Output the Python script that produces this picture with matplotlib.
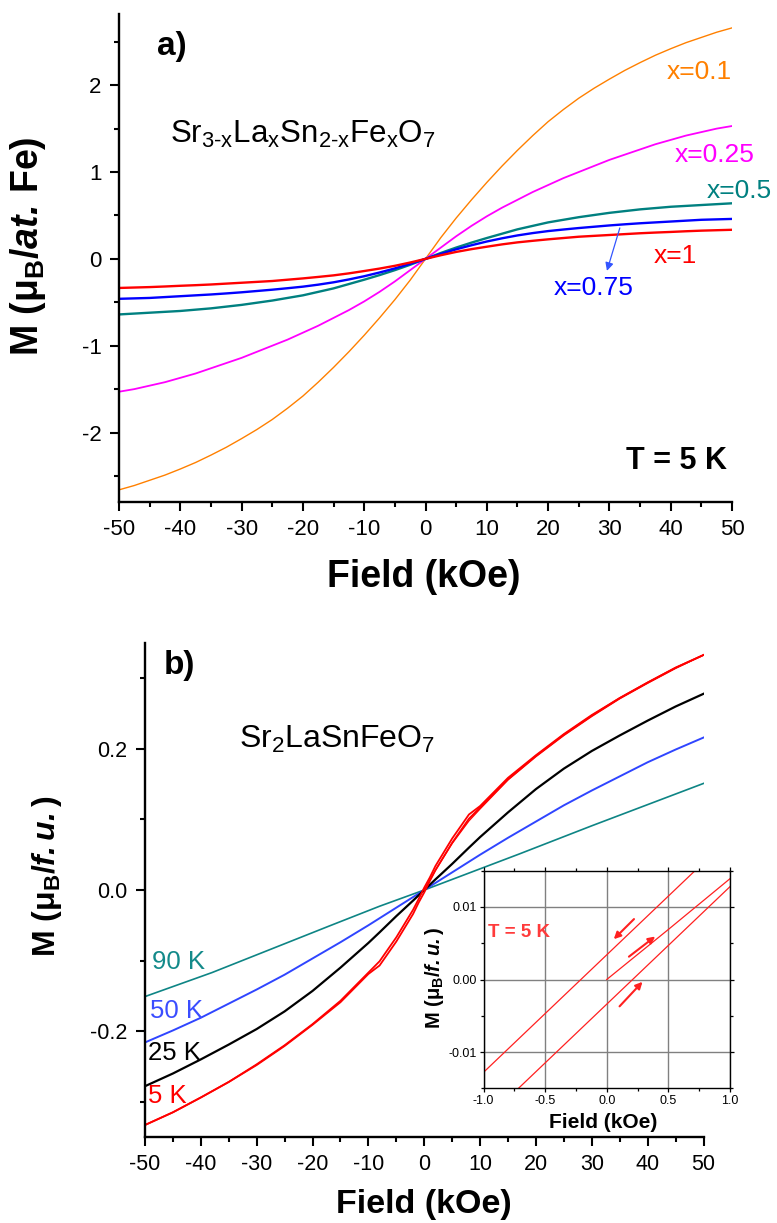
import matplotlib
matplotlib.use("Agg")
import matplotlib.pyplot as plt
from matplotlib.ticker import MultipleLocator, FormatStrFormatter

plt.rcParams['font.family'] = ['Liberation Sans', 'DejaVu Sans']
plt.rcParams['axes.unicode_minus'] = False
plt.rcParams['mathtext.fontset'] = 'custom'
plt.rcParams['mathtext.rm'] = 'Liberation Sans'
plt.rcParams['mathtext.it'] = 'Liberation Sans:italic'
plt.rcParams['mathtext.bf'] = 'Liberation Sans:bold'
plt.rcParams['mathtext.bfit'] = 'Liberation Sans:italic:bold'

# ---------------- panel a data (T = 5 K) ----------------
field_a = [-50, -47.5, -45, -42.5, -40, -37.5, -35, -32.5, -30, -27.5, -25, -22.5,
           -20, -17.5, -15, -12.5, -10, -7.5, -5, -2.5, 0,
           2.5, 5, 7.5, 10, 12.5, 15, 17.5, 20, 22.5, 25, 27.5, 30,
           32.5, 35, 37.5, 40, 42.5, 45, 47.5, 50]
m_x01 = [-2.66, -2.61, -2.55, -2.49, -2.42, -2.345, -2.26, -2.17, -2.07, -1.965, -1.85, -1.72,
         -1.58, -1.42, -1.25, -1.07, -0.88, -0.68, -0.47, -0.245, 0.0,
         0.245, 0.47, 0.68, 0.88, 1.07, 1.25, 1.42, 1.58, 1.72, 1.85, 1.965, 2.07,
         2.17, 2.26, 2.345, 2.42, 2.49, 2.55, 2.61, 2.66]
m_x025 = [-1.53, -1.50, -1.46, -1.42, -1.37, -1.32, -1.26, -1.20, -1.14, -1.07, -1.00, -0.93,
          -0.85, -0.77, -0.68, -0.59, -0.49, -0.38, -0.26, -0.13, 0.0,
          0.13, 0.26, 0.38, 0.49, 0.59, 0.68, 0.77, 0.85, 0.93, 1.00, 1.07, 1.14,
          1.20, 1.26, 1.32, 1.37, 1.42, 1.46, 1.50, 1.53]
m_x05 = [-0.64, -0.63, -0.62, -0.61, -0.60, -0.585, -0.57, -0.55, -0.53, -0.505, -0.48, -0.45,
         -0.42, -0.38, -0.34, -0.29, -0.24, -0.187, -0.13, -0.068, 0.0,
         0.068, 0.13, 0.187, 0.24, 0.29, 0.34, 0.38, 0.42, 0.45, 0.48, 0.505, 0.53,
         0.55, 0.57, 0.585, 0.60, 0.61, 0.62, 0.63, 0.64]
m_x075 = [-0.46, -0.455, -0.45, -0.44, -0.43, -0.42, -0.41, -0.398, -0.385, -0.37, -0.355, -0.338,
          -0.32, -0.297, -0.27, -0.237, -0.20, -0.157, -0.11, -0.057, 0.0,
          0.057, 0.11, 0.157, 0.20, 0.237, 0.27, 0.297, 0.32, 0.338, 0.355, 0.37, 0.385,
          0.398, 0.41, 0.42, 0.43, 0.44, 0.45, 0.455, 0.46]
m_x1 = [-0.335, -0.33, -0.325, -0.318, -0.31, -0.303, -0.295, -0.285, -0.275, -0.265, -0.255, -0.24,
        -0.225, -0.208, -0.19, -0.167, -0.14, -0.112, -0.08, -0.042, 0.0,
        0.042, 0.08, 0.112, 0.14, 0.167, 0.19, 0.208, 0.225, 0.24, 0.255, 0.265, 0.275,
        0.285, 0.295, 0.303, 0.31, 0.318, 0.325, 0.33, 0.335]
labels_a = ["x=0.1", "x=0.25", "x=0.5", "x=0.75", "x=1"]

# ---------------- panel b data (Sr2LaSnFeO7) ----------------
field_b = [-50, -45, -40, -35, -30, -25, -20, -15, -10, -8, -5, -2, 0,
           2, 5, 8, 10, 15, 20, 25, 30, 35, 40, 45, 50]
m_25K = [-0.278, -0.26, -0.24, -0.219, -0.197, -0.172, -0.143, -0.11, -0.075, -0.06, -0.037, -0.015, 0.0,
         0.015, 0.037, 0.06, 0.075, 0.11, 0.143, 0.172, 0.197, 0.219, 0.24, 0.26, 0.278]
m_50K = [-0.216, -0.199, -0.181, -0.161, -0.141, -0.12, -0.097, -0.074, -0.05, -0.04, -0.025, -0.01, 0.0,
         0.01, 0.025, 0.04, 0.05, 0.074, 0.097, 0.12, 0.141, 0.161, 0.181, 0.199, 0.216]
field_90K = [-50, -38, -17, -8, 0, 8, 17, 30, 40, 50]
m_90K = [-0.151, -0.117, -0.051, -0.023, 0.0, 0.024, 0.051, 0.091, 0.121, 0.151]

field_5K = [-50, -45, -40, -35, -30, -25, -20, -15, -10, -8, -5, -2, -1, 0,
            1, 2, 5, 8, 10, 15, 20, 25, 30, 35, 40, 45, 50]
m_5K_down = [-0.333, -0.315, -0.294, -0.272, -0.247, -0.220, -0.190, -0.157, -0.117, -0.101, -0.067, -0.028, -0.0128, 0.0034,
             0.0178, 0.034, 0.073, 0.107, 0.119, 0.159, 0.191, 0.221, 0.248, 0.272, 0.294, 0.315, 0.333]
m_5K_up = [-0.333, -0.315, -0.294, -0.272, -0.248, -0.221, -0.191, -0.159, -0.119, -0.107, -0.073, -0.034, -0.0178, -0.0034,
           0.0128, 0.028, 0.067, 0.101, 0.117, 0.157, 0.190, 0.220, 0.247, 0.272, 0.294, 0.315, 0.333]
field_5K_virgin = [0, 1, 2, 5, 8, 10, 15, 20, 25, 30, 35, 40, 45, 50]
m_5K_virgin = [0.0, 0.0139, 0.028, 0.066, 0.098, 0.115, 0.156, 0.189, 0.219, 0.246, 0.271, 0.293, 0.314, 0.333]
labels_b = ["90 K", "50 K", "25 K", "5 K"]

# ---------------- inset data (T = 5 K, low field) ----------------
inset_down_H = [1.0, 0.5, 0.0, -0.5, -1.0]
inset_down_M = [0.0196, 0.0115, 0.0034, -0.0047, -0.0128]
inset_up_H = [-1.0, -0.5, 0.0, 0.5, 1.0]
inset_up_M = [-0.0196, -0.0115, -0.0034, 0.0047, 0.0128]
inset_virgin_H = [0.0, 0.5, 1.0]
inset_virgin_M = [0.0, 0.0069, 0.0139]

W, H = 777, 1223
fig = plt.figure(figsize=(W / 100, H / 100), dpi=100)


def style_main(ax, labelsize):
    for s in ['top', 'right']:
        ax.spines[s].set_visible(False)
    for s in ['left', 'bottom']:
        ax.spines[s].set_linewidth(1.7)
    ax.tick_params(which='major', direction='out', length=6.5, width=1.5,
                   labelsize=labelsize, pad=6)
    ax.tick_params(which='minor', direction='out', length=3.6, width=1.5)


# ---------------- panel a ----------------
ax1 = fig.add_axes([119 / W, 1 - 502 / H, 613 / W, 488 / H])
ax1.plot(field_a, m_x01, color='#FF8000', lw=1.0)
ax1.plot(field_a, m_x025, color='#FF00FF', lw=1.3)
ax1.plot(field_a, m_x05, color='#008080', lw=1.7)
ax1.plot(field_a, m_x075, color='#0000FF', lw=1.7)
ax1.plot(field_a, m_x1, color='#FF0000', lw=1.7)
ax1.set_xlim(-50, 50)
ax1.set_ylim(-2.8, 2.82)
ax1.xaxis.set_major_locator(MultipleLocator(10))
ax1.xaxis.set_minor_locator(MultipleLocator(5))
ax1.yaxis.set_major_locator(MultipleLocator(1))
ax1.yaxis.set_minor_locator(MultipleLocator(0.5))
style_main(ax1, 16)

ax1.text(-43.8, 2.44, 'a)', fontsize=24, fontweight='bold', ha='left', va='center')
ax1.text(-41.7, 1.33, r'Sr$_\mathregular{3\text{-}x}$La$_\mathregular{x}$Sn$_\mathregular{2\text{-}x}$Fe$_\mathregular{x}$O$_\mathregular{7}$',
         fontsize=22.5, ha='left', va='baseline')
ax1.text(44.7, 2.15, labels_a[0], color='#FF8000', fontsize=19, ha='center', va='center')
ax1.text(47.2, 1.195, labels_a[1], color='#FF00FF', fontsize=19, ha='center', va='center', clip_on=False)
ax1.text(51.2, 0.78, labels_a[2], color='#008080', fontsize=19, ha='center', va='center', clip_on=False)
ax1.text(27.5, -0.333, labels_a[3], color='#0000FF', fontsize=19, ha='center', va='center')
ax1.text(40.8, 0.035, labels_a[4], color='#FF0000', fontsize=19, ha='center', va='center')
ax1.annotate('', xy=(29.6, -0.138), xytext=(31.7, 0.356),
             arrowprops=dict(arrowstyle='-|>', color='#3355FF', lw=0.9,
                             mutation_scale=12, shrinkA=0, shrinkB=0))
ax1.text(40.9, -2.33, 'T = 5 K', fontsize=22, fontweight='bold', ha='center', va='center')

fig.text(28 / W, 1 - 246 / H, r'M (μ$_\mathregular{B}$/$\mathbfit{at.}\,$Fe)', rotation=90,
         fontsize=27, fontweight='bold', ha='center', va='center')
fig.text(424 / W, 1 - 577 / H, 'Field (kOe)', fontsize=27, fontweight='bold',
         ha='center', va='center')

# ---------------- panel b ----------------
ax2 = fig.add_axes([145 / W, 1 - 1137 / H, 558.5 / W, 494 / H])
ax2.plot(field_90K, m_90K, color='#0E8585', lw=1.2)
ax2.plot(field_b, m_50K, color='#2F45FF', lw=1.4)
ax2.plot(field_b, m_25K, color='#000000', lw=1.6)
ax2.plot(field_5K, m_5K_down, color='#FF0000', lw=1.3)
ax2.plot(field_5K, m_5K_up, color='#FF0000', lw=1.3)
ax2.plot(field_5K_virgin, m_5K_virgin, color='#FF0000', lw=1.0)
ax2.set_xlim(-50, 50)
ax2.set_ylim(-0.35, 0.35)
ax2.xaxis.set_major_locator(MultipleLocator(10))
ax2.xaxis.set_minor_locator(MultipleLocator(5))
ax2.yaxis.set_major_locator(MultipleLocator(0.2))
ax2.yaxis.set_minor_locator(MultipleLocator(0.1))
ax2.yaxis.set_major_formatter(FormatStrFormatter('%.1f'))
style_main(ax2, 15.5)

ax2.text(-46.6, 0.318, 'b)', fontsize=24, fontweight='bold', ha='left', va='center')
ax2.text(-33.2, 0.202, r'Sr$_\mathregular{2}$LaSnFeO$_\mathregular{7}$', fontsize=23,
         ha='left', va='baseline')
ax2.text(-48.7, -0.1024, labels_b[0], color='#138A8A', fontsize=18.5, ha='left', va='center')
ax2.text(-49.1, -0.171, labels_b[1], color='#3A4DFF', fontsize=18.5, ha='left', va='center')
ax2.text(-49.5, -0.231, labels_b[2], color='#000000', fontsize=18.5, ha='left', va='center')
ax2.text(-49.5, -0.292, labels_b[3], color='#FF0000', fontsize=18.5, ha='left', va='center')

fig.text(47 / W, 1 - 876 / H, r'M (μ$_\mathregular{B}$/$\mathbfit{f.u.}$)', rotation=90,
         fontsize=23, fontweight='bold', ha='center', va='center')
fig.text(424 / W, 1 - 1204 / H, 'Field (kOe)', fontsize=24.5, fontweight='bold',
         ha='center', va='center')

# ---------------- inset ----------------
ax3 = fig.add_axes([483.5 / W, 1 - 1088.3 / H, 246.5 / W, 217.6 / H])
ax3.set_facecolor('white')
ax3.plot(inset_down_H, inset_down_M, color='#FF2020', lw=0.9)
ax3.plot(inset_up_H, inset_up_M, color='#FF2020', lw=0.9)
ax3.plot(inset_virgin_H, inset_virgin_M, color='#FF2020', lw=0.9)
ax3.set_xlim(-1.0, 1.0)
ax3.set_ylim(-0.015, 0.015)
ax3.xaxis.set_major_locator(MultipleLocator(0.5))
ax3.xaxis.set_minor_locator(MultipleLocator(0.25))
ax3.yaxis.set_major_locator(MultipleLocator(0.01))
ax3.yaxis.set_minor_locator(MultipleLocator(0.005))
ax3.xaxis.set_major_formatter(FormatStrFormatter('%.1f'))
ax3.yaxis.set_major_formatter(FormatStrFormatter('%.2f'))
ax3.grid(True, which='major', color='#808080', lw=1.0)
ax3.set_axisbelow(True)
for s in ax3.spines.values():
    s.set_linewidth(1.0)
ax3.tick_params(which='both', direction='out', top=True, right=True,
                labeltop=False, labelright=False, labelsize=9, pad=1.5)
ax3.tick_params(which='major', length=3, width=0.9)
ax3.tick_params(which='minor', length=2, width=0.9)

arrow_kw = dict(arrowstyle='-|>', color='#FF2020', lw=1.5, mutation_scale=10,
                shrinkA=0, shrinkB=0)
ax3.annotate('', xy=(0.057, 0.00556), xytext=(0.221, 0.00833), arrowprops=arrow_kw)
ax3.annotate('', xy=(0.393, 0.00593), xytext=(0.180, 0.00315), arrowprops=arrow_kw)
ax3.annotate('', xy=(0.290, -0.00032), xytext=(0.104, -0.0037), arrowprops=arrow_kw)
ax3.text(-0.96, 0.0065, 'T = 5 K', color='#FF3B3B', fontsize=13.5, fontweight='bold',
         ha='left', va='center')

fig.text(435 / W, 1 - 978 / H, r'M (μ$_\mathregular{B}$/$\mathbfit{f.u.}$)', rotation=90,
         fontsize=14.5, fontweight='bold', ha='center', va='center')
fig.text(603 / W, 1 - 1122 / H, 'Field (kOe)', fontsize=15, fontweight='bold',
         ha='center', va='center')

fig.savefig('out.png', dpi=100)
